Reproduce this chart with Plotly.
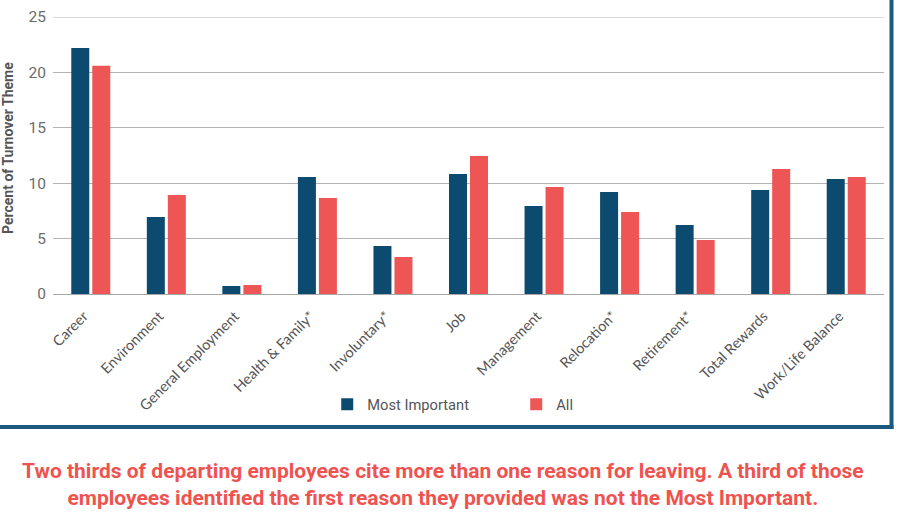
import plotly.graph_objects as go

categories = ["Career", "Environment", "General Employment", "Health & Family*",
              "Involuntary*", "Job", "Management", "Relocation*", "Retirement*",
              "Total Rewards", "Work/Life Balance"]
most_important = [22.2, 6.95, 0.72, 10.56, 4.33, 10.83, 7.94, 9.2, 6.23, 9.39, 10.38]
all_reasons = [20.6, 8.93, 0.81, 8.66, 3.34, 12.45, 9.66, 7.4, 4.87, 11.28, 10.56]
y_ticks = [0, 5, 10, 15, 20, 25]
y_title = "Percent of Turnover Theme"
caption = ("Two thirds of departing employees cite more than one reason for leaving. A third of those<br>"
           "employees identified the first reason they provided was not the Most Important.")

NAVY = "#0d4a6f"
RED = "#ee5555"
FRAME = "#1b5a7e"
GRID = "#b3b3b3"

fig = go.Figure()
fig.add_trace(go.Bar(x=categories, y=most_important, name="Most Important",
                     marker=dict(color=NAVY, line=dict(width=0))))
fig.add_trace(go.Bar(x=categories, y=all_reasons, name="All",
                     marker=dict(color=RED, line=dict(width=0))))

PL, PT, PW, PH = 53, 17, 831, 277

fig.update_layout(
    width=897, height=519,
    margin=dict(l=PL, r=897 - PL - PW, t=PT, b=519 - PT - PH),
    paper_bgcolor="white", plot_bgcolor="white",
    barmode="group", bargap=0.444, bargroupgap=0.143,
    font=dict(family="Roboto", color="#595959"),
    showlegend=True,
    legend=dict(orientation="h", x=0.33, xanchor="left", y=-0.40, yanchor="middle",
                font=dict(family="Roboto", size=14.7, color="#555555"),
                entrywidth=144, entrywidthmode="pixels",
                itemclick=False, bgcolor="rgba(0,0,0,0)"),
    xaxis=dict(tickangle=-45, tickfont=dict(family="Lato", size=14.5, color="#555555"),
               showgrid=False, showline=False, ticks="", automargin=False,
               ticklabelstandoff=10, ticklabelshift=-7),
    yaxis=dict(range=[0, 25], tickvals=y_ticks, showgrid=True, gridcolor=GRID,
               gridwidth=1, zeroline=True, zerolinecolor="#a8a8a8", zerolinewidth=1,
               tickfont=dict(family="Roboto", size=15.5, color="#6b6b6b"),
               ticks="", ticklabelstandoff=6, automargin=False),
)

def px_x(x):
    return (x - PL) / PW

def px_y(y):
    return (PT + PH - y) / PH

# top gridline (at the range edge)
fig.add_shape(type="line", xref="x domain", yref="y",
              x0=0, x1=1, y0=y_ticks[-1], y1=y_ticks[-1],
              line=dict(color=GRID, width=1), layer="below")

# frame: right and bottom border
fig.add_shape(type="line", xref="x domain", yref="y domain",
              x0=px_x(0), x1=px_x(893.5), y0=px_y(427), y1=px_y(427),
              line=dict(color=FRAME, width=4))
fig.add_shape(type="line", xref="x domain", yref="y domain",
              x0=px_x(891.5), x1=px_x(891.5), y0=px_y(429), y1=px_y(0),
              line=dict(color=FRAME, width=4))

fig.add_annotation(text="<b>" + y_title + "</b>", xref="paper", yref="paper",
                   x=px_x(8), y=px_y(148), xanchor="center", yanchor="middle",
                   textangle=-90, showarrow=False,
                   font=dict(family="Roboto", size=14, color="#555555"))

fig.add_annotation(text="<b>" + caption + "</b>", xref="paper", yref="paper",
                   x=px_x(443), y=px_y(484), xanchor="center", yanchor="middle",
                   showarrow=False, align="center",
                   font=dict(family="Roboto", size=21, color="#ef5350"))

fig.write_html("out.html", config={"displayModeBar": False},
               post_script="document.body.style.margin='0';document.body.style.padding='0';")
